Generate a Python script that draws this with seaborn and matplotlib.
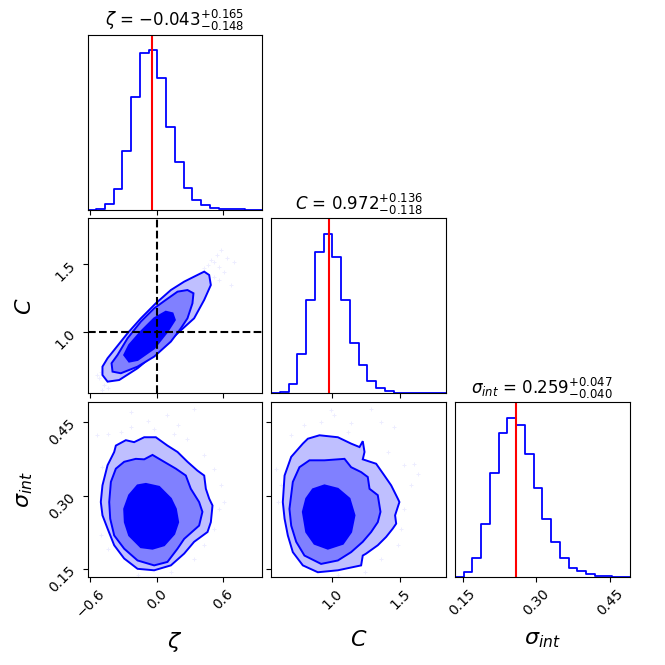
import numpy as np
import pandas as pd
import matplotlib
matplotlib.use("Agg")
import matplotlib.pyplot as plt
from matplotlib.ticker import FixedLocator, FuncFormatter, NullFormatter
import seaborn as sns

# parameter ranges (axis limits, sample min/max)
zeta_range = (-0.625, 0.955)
c_range = (0.547, 1.840)
sig_range = (0.1343, 0.4907)

# 1D marginal histogram counts (20 bins each)
zeta_counts = [0, 3, 17, 63, 175, 338, 470, 478, 394, 249, 142, 65, 30, 14, 5, 2, 1, 0.5, 0, 0]
c_counts = [0, 3, 28, 117, 279, 423, 476, 407, 280, 150, 85, 36, 16, 7, 2, 1, 0.5, 0.5, 0.3, 0.3]
sig_counts = [1, 16, 56, 160, 310, 430, 476, 455, 369, 265, 173, 105, 56, 27, 17, 9, 4, 2, 1, 0.5]

# medians and errors
zeta_med, zeta_up, zeta_lo = -0.043, 0.165, 0.148
c_med, c_up, c_lo = 0.972, 0.136, 0.118
sig_med, sig_up, sig_lo = 0.259, 0.047, 0.040

# truth values shown in the zeta-C panel
zeta_true = 0.0
c_true = 1.0

# credible region outlines (outer, middle, inner)
zc_outer_x = [-0.490, -0.444, -0.339, -0.173, 0.007, 0.188, 0.338, 0.429, 0.489, 0.474, 0.429, 0.338, 0.248, 0.128, -0.008, -0.143, -0.264, -0.384, -0.444, -0.490]
zc_outer_y = [0.682, 0.633, 0.645, 0.732, 0.855, 0.990, 1.101, 1.237, 1.347, 1.421, 1.446, 1.409, 1.372, 1.310, 1.212, 1.101, 0.990, 0.867, 0.806, 0.744]
zc_mid_x = [-0.399, -0.324, -0.173, -0.023, 0.128, 0.218, 0.278, 0.323, 0.332, 0.278, 0.188, 0.082, -0.023, -0.143, -0.264, -0.354, -0.408]
zc_mid_y = [0.707, 0.695, 0.744, 0.818, 0.929, 1.027, 1.101, 1.212, 1.286, 1.310, 1.298, 1.237, 1.175, 1.077, 0.953, 0.830, 0.769]
zc_in_x = [-0.294, -0.249, -0.173, -0.023, 0.097, 0.164, 0.143, 0.082, -0.023, -0.143, -0.249]
zc_in_y = [0.830, 0.781, 0.793, 0.879, 1.003, 1.089, 1.138, 1.150, 1.101, 1.003, 0.904]

zs_outer_x = [-0.505, -0.490, -0.444, -0.384, -0.369, -0.279, -0.204, -0.113, -0.008, 0.097, 0.188, 0.278, 0.368, 0.429, 0.444, 0.474, 0.504, 0.489, 0.459, 0.338, 0.248, 0.128, -0.023, -0.173, -0.294, -0.384, -0.444, -0.490]
zs_outer_y = [0.287, 0.321, 0.362, 0.389, 0.402, 0.413, 0.409, 0.419, 0.419, 0.402, 0.389, 0.369, 0.351, 0.341, 0.314, 0.294, 0.280, 0.246, 0.226, 0.206, 0.182, 0.158, 0.148, 0.151, 0.172, 0.199, 0.233, 0.260]
zs_mid_x = [-0.429, -0.414, -0.369, -0.294, -0.189, -0.113, -0.038, 0.067, 0.173, 0.263, 0.308, 0.383, 0.413, 0.383, 0.248, 0.188, 0.097, -0.023, -0.173, -0.294, -0.384, -0.420]
zs_mid_y = [0.287, 0.328, 0.355, 0.369, 0.375, 0.374, 0.383, 0.369, 0.355, 0.341, 0.314, 0.287, 0.267, 0.239, 0.212, 0.192, 0.165, 0.158, 0.168, 0.192, 0.219, 0.253]
zs_in_x = [-0.294, -0.249, -0.173, -0.098, 0.022, 0.128, 0.173, 0.194, 0.158, 0.067, -0.038, -0.143, -0.249, -0.288]
zs_in_y = [0.273, 0.301, 0.321, 0.324, 0.318, 0.294, 0.273, 0.246, 0.222, 0.199, 0.192, 0.195, 0.219, 0.246]

cs_outer_x = [0.633, 0.646, 0.695, 0.781, 0.818, 0.904, 1.040, 1.138, 1.200, 1.224, 1.237, 1.224, 1.323, 1.384, 1.434, 1.483, 1.495, 1.463, 1.471, 1.446, 1.397, 1.335, 1.249, 1.224, 1.212, 1.040, 0.892, 0.781, 0.707, 0.670, 0.646]
cs_outer_y = [0.287, 0.341, 0.379, 0.406, 0.416, 0.423, 0.419, 0.406, 0.399, 0.411, 0.389, 0.374, 0.365, 0.341, 0.321, 0.294, 0.287, 0.260, 0.243, 0.233, 0.216, 0.199, 0.182, 0.178, 0.158, 0.148, 0.144, 0.158, 0.185, 0.219, 0.253]
cs_mid_x = [0.682, 0.707, 0.756, 0.830, 0.941, 1.089, 1.138, 1.212, 1.261, 1.274, 1.335, 1.355, 1.335, 1.286, 1.224, 1.138, 1.040, 0.916, 0.793, 0.732, 0.695]
cs_mid_y = [0.273, 0.328, 0.358, 0.372, 0.372, 0.375, 0.358, 0.348, 0.338, 0.314, 0.301, 0.267, 0.246, 0.226, 0.206, 0.185, 0.168, 0.161, 0.178, 0.206, 0.239]
cs_in_x = [0.781, 0.806, 0.855, 0.941, 1.040, 1.126, 1.163, 1.138, 1.077, 0.966, 0.867, 0.806]
cs_in_y = [0.267, 0.294, 0.313, 0.321, 0.314, 0.294, 0.260, 0.226, 0.202, 0.192, 0.202, 0.226]

# faint outlying samples
zc_pts_x = [0.579, 0.549, 0.639, 0.519, 0.699, 0.459, 0.564, 0.609, 0.519, 0.669, 0.429, 0.564, 0.489, -0.505, -0.520, -0.475, -0.490, -0.535, -0.444]
zc_pts_y = [1.606, 1.569, 1.544, 1.520, 1.520, 1.495, 1.483, 1.446, 1.409, 1.347, 1.471, 1.384, 1.532, 0.707, 0.658, 0.608, 0.572, 0.682, 0.584]
zs_pts_x = [-0.234, -0.083, 0.097, 0.338, 0.188, -0.324, -0.444, 0.278, 0.429, 0.519, 0.579, 0.564, 0.519, 0.429, 0.338, -0.444, -0.505, 0.128, -0.173, -0.023, -0.234, 0.609, 0.158, -0.490, -0.535]
zs_pts_y = [0.470, 0.453, 0.464, 0.477, 0.443, 0.430, 0.426, 0.416, 0.382, 0.355, 0.321, 0.273, 0.233, 0.199, 0.172, 0.192, 0.219, 0.144, 0.138, 0.436, 0.440, 0.287, 0.426, 0.358, 0.423]
cs_pts_x = [0.990, 1.015, 1.286, 1.138, 0.793, 0.695, 1.360, 1.458, 1.409, 1.532, 1.606, 1.581, 1.631, 1.532, 1.508, 1.483, 1.360, 0.621, 0.596, 0.584, 1.040, 1.237, 0.916, 1.113]
cs_pts_y = [0.474, 0.464, 0.477, 0.447, 0.443, 0.423, 0.450, 0.440, 0.389, 0.362, 0.365, 0.321, 0.345, 0.273, 0.233, 0.199, 0.172, 0.321, 0.287, 0.355, 0.138, 0.144, 0.450, 0.430]

light_blue = "#bfbfff"
mid_blue = "#8080ff"
dark_blue = "#0000ff"

fig, axes = plt.subplots(3, 3, figsize=(6.65, 6.65), dpi=100)
fig.subplots_adjust(left=0.1316, right=0.947, bottom=0.1323, top=0.948,
                    wspace=0.05, hspace=0.05)

ranges = [zeta_range, c_range, sig_range]
counts = [zeta_counts, c_counts, sig_counts]
meds = [(zeta_med, zeta_up, zeta_lo), (c_med, c_up, c_lo), (sig_med, sig_up, sig_lo)]
names = [r"\zeta", "C", r"\sigma_{int}"]
ticks = [[-0.6, 0.0, 0.6], [1.0, 1.5], [0.15, 0.30, 0.45]]
decimals = [1, 1, 2]


def tick_fmt(nd):
    return FuncFormatter(lambda v, pos: f"{v:.{nd}f}".replace("-", "\u2212"))


# diagonal histograms
for i in range(3):
    ax = axes[i, i]
    lo, hi = ranges[i]
    edges = np.linspace(lo, hi, len(counts[i]) + 1)
    df = pd.DataFrame({"v": 0.5 * (edges[:-1] + edges[1:]), "w": counts[i]})
    sns.histplot(data=df, x="v", weights="w", bins=list(edges), element="step",
                 fill=False, color="blue", linewidth=1.3, ax=ax)
    ax.axvline(meds[i][0], color="red", lw=1.5)
    ax.set_xlim(lo, hi)
    ax.set_ylim(0, 1.1 * max(counts[i]))
    ax.set_yticks([])
    ax.set_ylabel("")
    ax.set_xlabel("")
    m, up, dn = meds[i]
    ax.set_title(r"$%s$ = $%.3f_{-%.3f}^{+%.3f}$" % (names[i], m, dn, up), fontsize=12)

# off-diagonal panels
panels = {
    (1, 0): (zc_pts_x, zc_pts_y, [(zc_outer_x, zc_outer_y), (zc_mid_x, zc_mid_y), (zc_in_x, zc_in_y)]),
    (2, 0): (zs_pts_x, zs_pts_y, [(zs_outer_x, zs_outer_y), (zs_mid_x, zs_mid_y), (zs_in_x, zs_in_y)]),
    (2, 1): (cs_pts_x, cs_pts_y, [(cs_outer_x, cs_outer_y), (cs_mid_x, cs_mid_y), (cs_in_x, cs_in_y)]),
}
for (r, c), (px, py, polys) in panels.items():
    ax = axes[r, c]
    sns.scatterplot(x=px, y=py, marker="+", s=10, color="blue", alpha=0.07,
                    linewidth=0.7, ax=ax)
    for (xs, ys), col in zip(polys, [light_blue, mid_blue, dark_blue]):
        ax.fill(xs, ys, facecolor=col, edgecolor="blue", lw=1.4, zorder=3)
    ax.set_xlim(*ranges[c])
    ax.set_ylim(*ranges[r])

axes[1, 0].axvline(zeta_true, color="black", ls="--", lw=1.5, zorder=5)
axes[1, 0].axhline(c_true, color="black", ls="--", lw=1.5, zorder=5)

for r in range(3):
    for c in range(3):
        ax = axes[r, c]
        if c > r:
            ax.set_visible(False)
            continue
        ax.xaxis.set_major_locator(FixedLocator(ticks[c]))
        ax.xaxis.set_major_formatter(tick_fmt(decimals[c]))
        if r < 2:
            ax.xaxis.set_major_formatter(NullFormatter())
        else:
            for lab in ax.get_xticklabels():
                lab.set_rotation(45)
            ax.set_xlabel(r"$%s$" % names[c], fontsize=16)
            ax.xaxis.set_label_coords(0.5, -0.3)
        if c != r:
            ax.yaxis.set_major_locator(FixedLocator(ticks[r]))
            ax.yaxis.set_major_formatter(tick_fmt(decimals[r]))
            if c > 0:
                ax.yaxis.set_major_formatter(NullFormatter())
            else:
                for lab in ax.get_yticklabels():
                    lab.set_rotation(45)
                ax.set_ylabel(r"$%s$" % names[r], fontsize=16)
                ax.yaxis.set_label_coords(-0.3, 0.5)
        ax.tick_params(labelsize=10)

plt.savefig("out.png", dpi=100)
